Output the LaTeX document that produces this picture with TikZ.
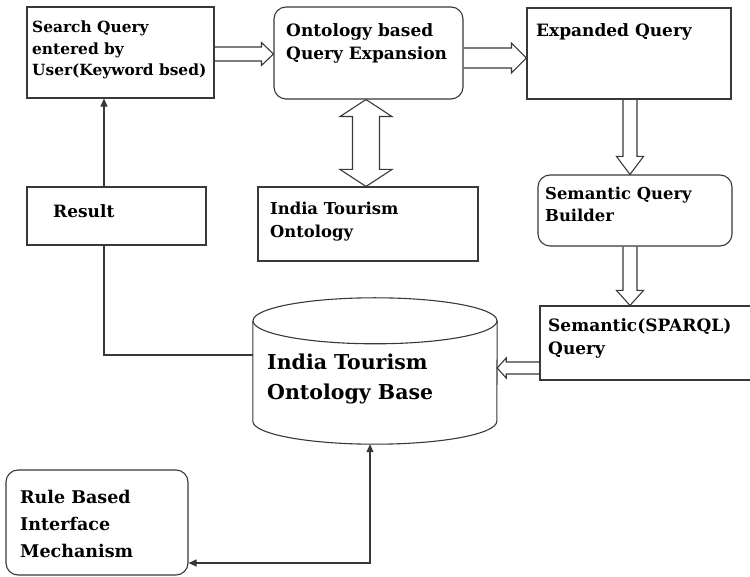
\documentclass[tikz,border=0pt]{standalone}
\usepackage{fontspec}
\setmainfont{DejaVu Serif}
\usetikzlibrary{calc,arrows.meta}

\tikzset{
  line/.style={draw=black!78, line width=1.1pt},
  hollow/.style={line, line join=miter},
  boxsq/.style={line, rectangle, inner sep=0pt},
  boxrd/.style={line, rectangle, rounded corners=12pt, inner sep=0pt},
  lbl/.style={anchor=base west, inner sep=0pt, align=left, text=black},
  tip/.style={line, -{Triangle[length=8pt,width=7pt]}},
}

% open (outlined) block arrow from #1 to #2: half shaft width #3, half head width #4, head length #5
\newcommand{\hollowarrow}[5]{%
  \draw[hollow] let \p1=(#1), \p2=(#2),
      \n1={atan2(\y2-\y1,\x2-\x1)}, \n2={veclen(\x2-\x1,\y2-\y1)} in
    [shift={(\p1)}, rotate=\n1]
    (0,#3) -- (\n2-#5,#3) -- (\n2-#5,#4) -- (\n2,0) -- (\n2-#5,-#4) -- (\n2-#5,-#3) -- (0,-#3);}

% open block arrow with heads at both ends
\newcommand{\hollowdouble}[5]{%
  \draw[hollow] let \p1=(#1), \p2=(#2),
      \n1={atan2(\y2-\y1,\x2-\x1)}, \n2={veclen(\x2-\x1,\y2-\y1)} in
    [shift={(\p1)}, rotate=\n1]
    (#5,#3) -- (\n2-#5,#3) -- (\n2-#5,#4) -- (\n2,0) -- (\n2-#5,-#4) -- (\n2-#5,-#3)
    -- (#5,-#3) -- (#5,-#4) -- (0,0) -- (#5,#4) -- cycle;}

\begin{document}
\begin{tikzpicture}[x=1pt, y=1pt, font=\bfseries]
\useasboundingbox (0,0) rectangle (750,576);
\clip (0,0) rectangle (750,576);

% boxes
\node[boxsq, minimum width=187, minimum height=91] (b1)   at (120.5,523.5) {};
\node[boxrd, minimum width=189, minimum height=92] (b2)   at (368.5,523)   {};
\node[boxsq, minimum width=204, minimum height=91] (b3)   at (629,522.5)   {};
\node[boxsq, minimum width=220, minimum height=74] (ont)  at (368,352)     {};
\node[boxsq, minimum width=179, minimum height=58] (res)  at (116.5,360)   {};
\node[boxrd, minimum width=194, minimum height=71] (sqb)  at (635,365.5)   {};
\node[boxsq, minimum width=222, minimum height=74] (spq)  at (651,233)     {};
\node[boxrd, minimum width=182, minimum height=105] (rule) at (97,53.5)    {};
\node[rectangle, inner sep=0pt, minimum width=244, minimum height=146] (db) at (375,205) {};

% database cylinder
\draw[line] ([yshift=-23]db.north) ellipse [x radius=122, y radius=23];
\draw[line] ([yshift=-23]db.north west) -- ([yshift=23]db.south west)
  arc[start angle=180, end angle=360, x radius=122, y radius=23]
  -- ([yshift=-23]db.north east);

% labels (each placed by the baseline of its last line)
\node[lbl, font=\bfseries\fontsize{15.4}{21.5}\selectfont] (t1) at (32,500)
  {Search Query\\entered by\\User(Keyword bsed)};
\node[lbl, font=\bfseries\fontsize{17}{23}\selectfont] (t2) at (286,516)
  {Ontology based\\Query Expansion};
\node[lbl, font=\bfseries\fontsize{17}{23}\selectfont] (t3) at (536,539)
  {Expanded Query};
\node[lbl, font=\bfseries\fontsize{16.4}{23}\selectfont] (t4) at (270,338)
  {India Tourism\\Ontology};
\node[lbl, font=\bfseries\fontsize{17}{23}\selectfont] (t5) at (53,358)
  {Result};
\node[lbl, font=\bfseries\fontsize{16.4}{22}\selectfont] (t6) at (545,354)
  {Semantic Query\\Builder};
\node[lbl, font=\bfseries\fontsize{17}{23}\selectfont] (t7) at (548,221)
  {Semantic(SPARQL)\\Query};
\node[lbl, font=\bfseries\fontsize{17.5}{27}\selectfont] (t8) at (20,19)
  {Rule Based\\Interface\\Mechanism};
\node[lbl, font=\bfseries\fontsize{20.5}{30}\selectfont] (t9) at (267,176)
  {India Tourism\\Ontology Base};

% block arrows
\hollowarrow{[yshift=-1.5]b1.east}{[yshift=-1.5]b1.east -| b2.west}{7}{11.5}{12}
\hollowarrow{[yshift=-5]b2.east}{[yshift=-5]b2.east -| b3.west}{10}{15}{15}
\hollowdouble{[xshift=-2.5]b2.south}{[xshift=-2.5]b2.south |- ont.north}{13.5}{26}{17}
\hollowarrow{[xshift=1]b3.south}{[xshift=1]b3.south |- sqb.north}{7}{13.5}{18}
\hollowarrow{[xshift=-5]sqb.south}{[xshift=-5]sqb.south |- spq.north}{7}{13.5}{15}
\hollowarrow{[yshift=-25]spq.west}{[yshift=-25]spq.west -| db.east}{6}{10}{9}

% plain connectors
\draw[tip] ([xshift=-12.5]res.north) -- ([xshift=-12.5]res.north |- b1.south);
\draw[line] ([xshift=-12.5]res.south) |- ([yshift=16]db.west);
\draw[line, {Triangle[length=8pt,width=7pt]}-{Triangle[length=8pt,width=7pt]}]
  ([xshift=-5]db.south) |- ([yshift=-40.5]rule.east);
\end{tikzpicture}
\end{document}
